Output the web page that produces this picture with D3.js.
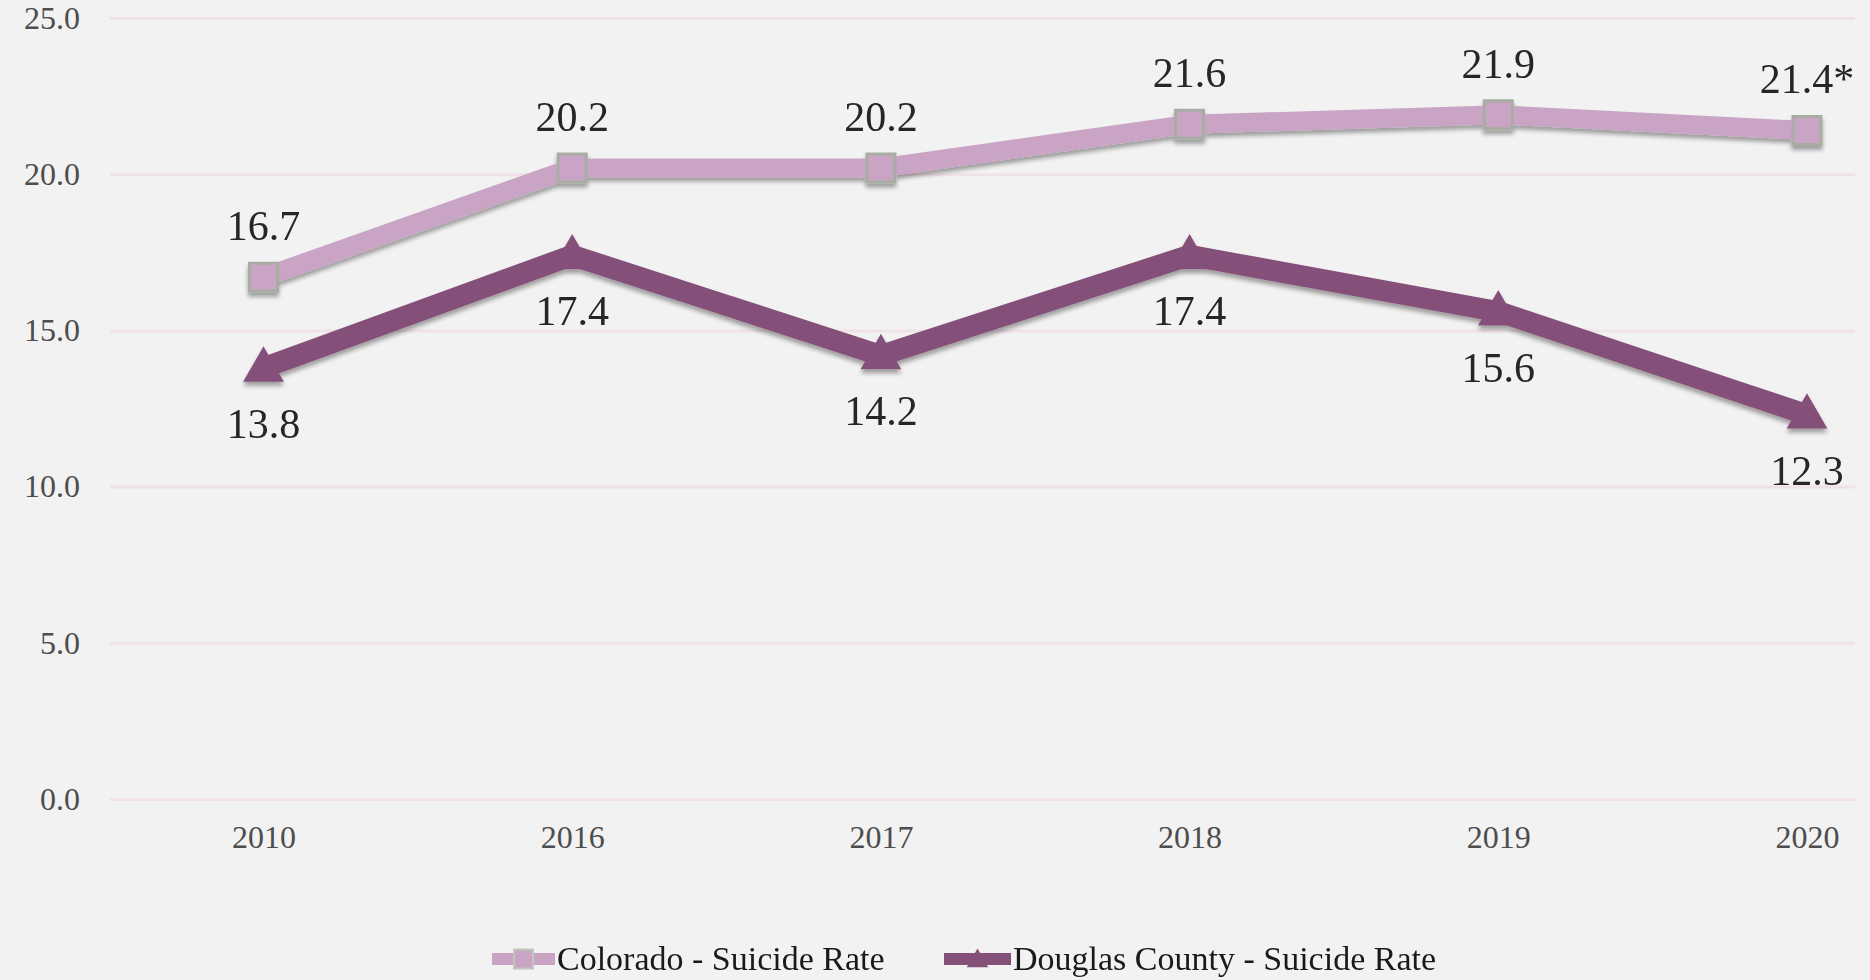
<!DOCTYPE html>
<html>
<head>
<meta charset="utf-8">
<script src="https://cdn.jsdelivr.net/npm/d3@7"></script>
<style>
  body { margin: 0; background: #f2f2f2; }
  svg { display: block; }
</style>
</head>
<body>
<script>
  // chart values
  const years = ["2010", "2016", "2017", "2018", "2019", "2020"];
  const coloradoRate = [16.7, 20.2, 20.2, 21.6, 21.9, 21.4];
  const douglasRate = [13.8, 17.4, 14.2, 17.4, 15.6, 12.3];
  const coloradoLabels = ["16.7", "20.2", "20.2", "21.6", "21.9", "21.4*"];
  const douglasLabels = ["13.8", "17.4", "14.2", "17.4", "15.6", "12.3"];
  const yTicks = [0, 5, 10, 15, 20, 25];
  const seriesNames = ["Colorado - Suicide Rate", "Douglas County - Suicide Rate"];

  const WIDTH = 1870;
  const HEIGHT = 980;
  const GRID_LEFT = 110;
  const GRID_RIGHT = 1855;
  const COLORADO = "#c9a4c5";
  const DOUGLAS = "#845078";

  const svg = d3.select("body")
    .append("svg")
    .attr("width", WIDTH)
    .attr("height", HEIGHT);

  svg.append("rect")
    .attr("width", WIDTH)
    .attr("height", HEIGHT)
    .attr("fill", "#f2f2f2");

  const defs = svg.append("defs");
  const shadow = defs.append("filter")
    .attr("id", "shadow")
    .attr("x", "-10%").attr("y", "-20%")
    .attr("width", "120%").attr("height", "150%");
  shadow.append("feDropShadow")
    .attr("dx", 0)
    .attr("dy", 4)
    .attr("stdDeviation", 2)
    .attr("flood-color", "#000")
    .attr("flood-opacity", 0.35);

  const xScale = d3.scalePoint()
    .domain(years)
    .range([263.5, 1807]);

  const yScale = d3.scaleLinear()
    .domain([0, 25])
    .range([799, 18]);

  // y axis + gridlines
  const yAxis = d3.axisLeft(yScale)
    .tickValues(yTicks)
    .tickFormat(d3.format(".1f"))
    .tickSize(-(GRID_RIGHT - GRID_LEFT))
    .tickPadding(30);

  const gy = svg.append("g")
    .attr("transform", "translate(" + GRID_LEFT + ",0)")
    .call(yAxis);
  gy.select(".domain").remove();
  gy.selectAll(".tick line")
    .attr("stroke", "#f0e2e8")
    .attr("stroke-width", 3);
  gy.selectAll(".tick text")
    .attr("font-family", "'Liberation Serif', serif")
    .attr("font-size", 32)
    .attr("fill", "#4d4d4d");

  // x axis
  const xAxis = d3.axisBottom(xScale).tickSize(0);
  const gx = svg.append("g")
    .attr("transform", "translate(0," + yScale(0) + ")")
    .call(xAxis);
  gx.select(".domain").remove();
  gx.selectAll(".tick text")
    .attr("y", 38)
    .attr("dy", "0.35em")
    .attr("font-family", "'Liberation Serif', serif")
    .attr("font-size", 32)
    .attr("fill", "#4d4d4d");

  const line = d3.line()
    .x((d, i) => xScale(years[i]))
    .y(d => yScale(d));

  const plot = svg.append("g").attr("filter", "url(#shadow)");

  // Colorado series
  plot.append("path")
    .datum(coloradoRate)
    .attr("d", line)
    .attr("fill", "none")
    .attr("stroke", COLORADO)
    .attr("stroke-width", 19)
    .attr("stroke-linejoin", "round");

  plot.selectAll(".co-mark")
    .data(coloradoRate)
    .enter()
    .append("path")
    .attr("class", "co-mark")
    .attr("d", d3.symbol(d3.symbolSquare, 784))
    .attr("transform", (d, i) => "translate(" + xScale(years[i]) + "," + yScale(d) + ")")
    .attr("fill", COLORADO)
    .attr("stroke", "#a8ada4")
    .attr("stroke-width", 3);

  // Douglas series
  plot.append("path")
    .datum(douglasRate)
    .attr("d", line)
    .attr("fill", "none")
    .attr("stroke", DOUGLAS)
    .attr("stroke-width", 21)
    .attr("stroke-linejoin", "miter");

  plot.selectAll(".dc-mark")
    .data(douglasRate)
    .enter()
    .append("path")
    .attr("class", "dc-mark")
    .attr("d", d3.symbol(d3.symbolTriangle, 720))
    .attr("transform", (d, i) => "translate(" + xScale(years[i]) + "," + (yScale(d) + 2) + ")")
    .attr("fill", DOUGLAS);

  // data labels
  svg.selectAll(".co-label")
    .data(coloradoRate)
    .enter()
    .append("text")
    .attr("class", "co-label")
    .attr("x", (d, i) => xScale(years[i]))
    .attr("y", d => yScale(d) - 37)
    .attr("text-anchor", "middle")
    .attr("font-family", "'Liberation Serif', serif")
    .attr("font-size", 42)
    .attr("fill", "#262626")
    .text((d, i) => coloradoLabels[i]);

  svg.selectAll(".dc-label")
    .data(douglasRate)
    .enter()
    .append("text")
    .attr("class", "dc-label")
    .attr("x", (d, i) => xScale(years[i]))
    .attr("y", d => yScale(d) + 70)
    .attr("text-anchor", "middle")
    .attr("font-family", "'Liberation Serif', serif")
    .attr("font-size", 42)
    .attr("fill", "#262626")
    .text((d, i) => douglasLabels[i]);

  // legend
  const legend = svg.append("g");
  const legendY = 959;

  legend.append("line")
    .attr("x1", 492).attr("x2", 555)
    .attr("y1", legendY).attr("y2", legendY)
    .attr("stroke", COLORADO)
    .attr("stroke-width", 12);
  legend.append("path")
    .attr("d", d3.symbol(d3.symbolSquare, 361))
    .attr("transform", "translate(523.5," + legendY + ")")
    .attr("fill", COLORADO)
    .attr("stroke", "#c0c8bc")
    .attr("stroke-width", 2);
  legend.append("text")
    .attr("x", 557)
    .attr("y", 970)
    .attr("font-family", "'Liberation Serif', serif")
    .attr("font-size", 34)
    .attr("fill", "#1a1a1a")
    .text(seriesNames[0]);

  legend.append("line")
    .attr("x1", 944).attr("x2", 1011)
    .attr("y1", legendY).attr("y2", legendY)
    .attr("stroke", DOUGLAS)
    .attr("stroke-width", 12);
  legend.append("path")
    .attr("d", d3.symbol(d3.symbolTriangle, 200))
    .attr("transform", "translate(977.5," + (legendY + 2) + ")")
    .attr("fill", DOUGLAS);
  legend.append("text")
    .attr("x", 1013)
    .attr("y", 970)
    .attr("font-family", "'Liberation Serif', serif")
    .attr("font-size", 34)
    .attr("fill", "#1a1a1a")
    .text(seriesNames[1]);
</script>
</body>
</html>
